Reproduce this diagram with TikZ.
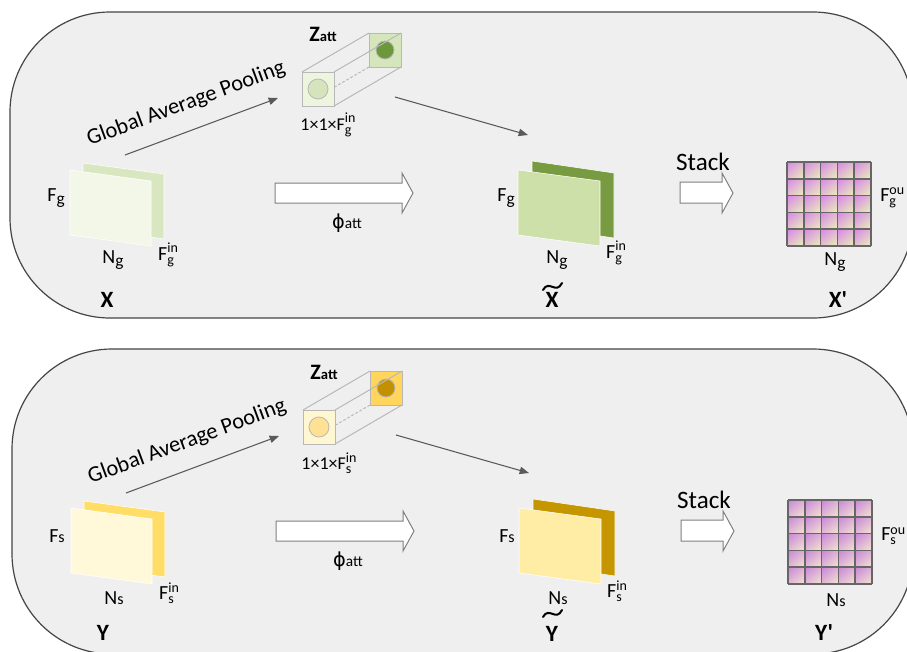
\documentclass[tikz,border=0pt]{standalone}
\usepackage{fontspec}
\setmainfont{Carlito}
\newfontfamily\carplain{Carlito}[Ligatures=TeXOff]
\newfontfamily\djv{DejaVu Sans}
\usetikzlibrary{arrows.meta,shadings}
\definecolor{panelbg}{HTML}{EFEFEF}
\definecolor{panelbd}{HTML}{454545}
\definecolor{edgegray}{HTML}{B8B8B8}
\definecolor{arrgray}{HTML}{5A5A5A}
\definecolor{gridc}{HTML}{666666}
% green (top)
\definecolor{tcb}{HTML}{D6E6BC}
\definecolor{tcbc}{HTML}{6C973B}
\definecolor{tcf}{HTML}{EEF5DE}
\definecolor{tcfc}{HTML}{D5E4BD}
\definecolor{tp1}{HTML}{F2F7E8}
\definecolor{tp2}{HTML}{D8E7C0}
\definecolor{tp3}{HTML}{CDE0A9}
\definecolor{tp4}{HTML}{789B41}
\definecolor{tm1}{HTML}{D886EA}
\definecolor{tm2}{HTML}{EAF2B4}
% yellow (bottom)
\definecolor{bcb}{HTML}{FFD55C}
\definecolor{bcbc}{HTML}{C39000}
\definecolor{bcf}{HTML}{FFF7D1}
\definecolor{bcfc}{HTML}{FFE194}
\definecolor{bp1}{HTML}{FFF9D9}
\definecolor{bp2}{HTML}{FFDD66}
\definecolor{bp3}{HTML}{FFEDA5}
\definecolor{bp4}{HTML}{C69600}
\definecolor{bm1}{HTML}{C985DA}
\definecolor{bm2}{HTML}{F5E6CE}
\tikzset{
  panel/.style={fill=panelbg, draw=panelbd, line width=0.9pt, rounded corners=75pt},
  edge/.style={draw=edgegray, line width=0.75pt},
  thinarr/.style={draw=arrgray, line width=0.8pt, -{Triangle[length=7pt,width=5.5pt]}},
  blockarr/.style={fill=white, draw=gray, line width=0.75pt, line join=miter},
  lbl/.style={font=\fontsize{15}{15}\selectfont, inner sep=0pt},
  big/.style={font=\carplain\bfseries\fontsize{17.5}{17}\selectfont, inner sep=0pt},
  planeface/.style={draw=white, line width=0.4pt},
  gridline/.style={draw=gridc, line width=1.2pt},
}
\newcommand\smallsz{\fontsize{10.5}{10}\selectfont}
\newcommand\panelbody[1]{%
  % ---- cube Z_att
  \fill[#1cb] (369,33) rectangle (401,67);
  \draw[edge] (369,33) rectangle (401,67);
  \filldraw[fill=#1cbc, draw=edgegray, line width=0.6pt] (385,50) circle (9);
  \draw[edge] (302,72) -- (369,33) (334,72) -- (401,33) (334,106) -- (401,67);
  \draw[edge, dashed, dash pattern=on 2pt off 1.5pt] (302,106) -- (369,67);
  \fill[#1cf] (302,72) rectangle (334,106);
  \draw[edge] (302,72) rectangle (334,106);
  \filldraw[fill=#1cfc, draw=edgegray, line width=0.6pt] (318,89) circle (10);
  \coordinate (#1-cube) at (351,70);
  \node[inner sep=0pt, font=\bfseries\fontsize{16.5}{16}\selectfont] (#1-z) at (323,34) {Z{\fontsize{11}{10}\selectfont att}};
  \node[inner sep=0pt, font=\fontsize{13.5}{14}\selectfont] (#1-size) at (328,125) {1×1×\Fin};
  % ---- input planes
  \fill[#1p2, planeface] (83,163) -- (164,174) -- (164,239) -- (83,228) -- cycle;
  \fill[#1p1, planeface] (70,170) -- (151,181) -- (151,246) -- (70,235) -- cycle;
  \node[lbl] (#1-Fa) at (56,198) {F\ix};
  \node[lbl] (#1-Na) at (113,260) {N\ix};
  \node[lbl] (#1-Fina) at (168,255) {\Fin};
  % ---- attended planes
  \fill[#1p4, planeface] (532,161) -- (614,173) -- (614,238) -- (532,226) -- cycle;
  \fill[#1p3, planeface] (518,170) -- (600,181) -- (600,246) -- (518,235) -- cycle;
  \node[lbl] (#1-Fb) at (506,198) {F\ix};
  \node[lbl] (#1-Nb) at (557,260) {N\ix};
  \node[lbl] (#1-Finb) at (616,253) {\Fin};
  % ---- GAP arrow
  \coordinate (#1-gs) at (125,155);
  \coordinate (#1-ge) at (278,98);
  \draw[thinarr] (#1-gs) -- (#1-ge);
  \node[inner sep=0pt, rotate=20.3, font=\fontsize{16.8}{17}\selectfont] (#1-gap) at (186,104) {Global Average Pooling};
  \coordinate (#1-as) at (395,97);
  \coordinate (#1-ae) at (528,135);
  \draw[thinarr] (#1-as) -- (#1-ae);
  % ---- phi block arrow
  \draw[blockarr] (275,183) -- (402,183) -- (402,173) -- (413,193) -- (402,213) -- (402,203) -- (275,203) -- cycle;
  \node[inner sep=0pt] (#1-phi) at (347,223) {{\djv\fontsize{14.5}{14}\selectfont ϕ}{\fontsize{11.5}{11}\selectfont att}};
  % ---- stack arrow
  \draw[blockarr] (680,182) -- (722,182) -- (722,173) -- (733,193) -- (722,213) -- (722,203) -- (680,203) -- cycle;
  \node[inner sep=0pt, font=\fontsize{18.8}{19}\selectfont] (#1-stack) at (703,162) {Stack};
  % ---- output matrix
  \foreach \i in {0,...,4}{
    \foreach \j in {0,...,4}{
      \shade[upper left=#1m1, upper right=#1m1!55!#1m2, lower left=#1m1!45!#1m2, lower right=#1m2]
        ({787+\i*16.8},{162+\j*16.8}) rectangle ++(16.8,16.8);
    }
  }
  \foreach \k in {0,...,5}{
    \draw[gridline] ({787+\k*16.8},162) -- ({787+\k*16.8},246);
    \draw[gridline] (787,{162+\k*16.8}) -- (871,{162+\k*16.8});
  }
  \coordinate (#1-mat) at (829,204);
  \node[lbl, anchor=west] (#1-Fou) at (880,198) {F\rlap{\raisebox{-3pt}{\smallsz\ixs}}\raisebox{5pt}{\smallsz ou}};
  \node[lbl] (#1-Nc) at (835,262) {N\ix};
}
\begin{document}
\begin{tikzpicture}[x=0.75pt,y=-0.75pt]
\useasboundingbox (0,0) rectangle (907,651);
\clip (0,0) rectangle (907,651);
\fill[white] (0,0) rectangle (907,651);
% ================= top panel
\draw[panel] (10,12) rectangle (913,318);
\def\ix{\raisebox{-2.5pt}{\fontsize{13}{12}\selectfont g}}
\def\ixs{g}
\def\Fin{F\rlap{\raisebox{-3pt}{\smallsz g}}\raisebox{5.5pt}{\smallsz in}}
\panelbody{t}
\node[big] (t-X) at (107,300) {X};
\node[big] (t-Xt) at (552,300) {X};
\draw[line width=1.5pt, line cap=round] (543,290) .. controls (549,279) and (556,295) .. (562,283);
\node[big] (t-Xp) at (838,300) {X'};
% ================= bottom panel
\draw[panel] (12,349) rectangle (913,654);
\def\ix{\raisebox{-0.5pt}{\fontsize{12}{11}\selectfont s}}
\def\ixs{s}
\def\Fin{F\rlap{\raisebox{-2.5pt}{\smallsz s}}\raisebox{5.5pt}{\smallsz in}}
\begin{scope}[shift={(1,338)}]
\panelbody{b}
\end{scope}
\node[big] (b-Y) at (103,633) {Y};
\node[big] (b-Yt) at (552,634) {Y};
\draw[line width=1.5pt, line cap=round] (543,617) .. controls (549,606) and (556,622) .. (562,610);
\node[big] (b-Yp) at (824,633) {Y'};
\end{tikzpicture}
\end{document}
